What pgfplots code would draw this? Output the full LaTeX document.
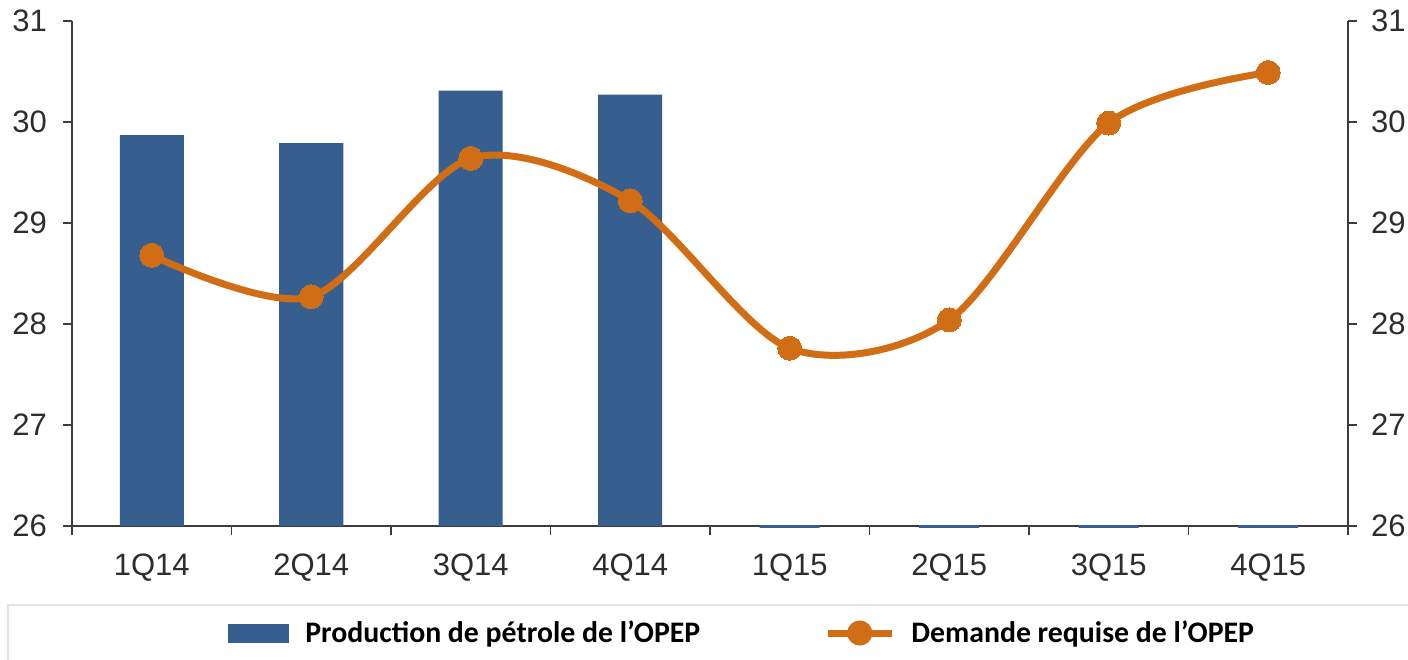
\documentclass[border=0pt]{standalone}
\usepackage{pgfplots}
\pgfplotsset{compat=1.18}
\usepackage{fontspec}
\setmainfont{Liberation Sans}
\newfontfamily\legfont{Carlito}
\definecolor{barblue}{RGB}{54,94,142}
\definecolor{lineorange}{RGB}{209,109,20}
\definecolor{axisgray}{RGB}{60,60,60}
\definecolor{ticktext}{RGB}{45,45,45}
\begin{document}
\begin{tikzpicture}
\useasboundingbox (0pt,0pt) rectangle (704pt,-329.5pt);
\draw[gray!22, line width=0.8pt] (4pt,-335pt) -- (4pt,-302.5pt) -- (710pt,-302.5pt);
\pgfplotsset{
  common/.style={
    at={(36pt,-263pt)}, anchor=south west,
    scale only axis, width=638pt, height=252.5pt,
    xmin=-0.5, xmax=7.5, ymin=26, ymax=31,
    ytick={26,27,28,29,30,31},
    tick align=outside,
    major tick length=4.5pt,
    axis line style={-, axisgray, line width=1pt},
    every tick/.style={axisgray, line width=0.8pt},
    ticklabel style={font=\fontsize{15.5}{18}\selectfont, text=ticktext},
    /pgf/number format/assume math mode=true,
    clip=false,
  }
}
\begin{axis}[common,
  axis x line*=bottom, axis y line*=left,
  xtick={0,...,7},
  xticklabels={1Q14,2Q14,3Q14,4Q14,1Q15,2Q15,3Q15,4Q15},
  major x tick style={draw=none},
  minor xtick={-0.5,0.5,...,7.5},
  minor tick length=4.5pt,
  minor x tick style={axisgray, line width=0.8pt},
  xticklabel style={yshift=-6pt},
  yticklabel style={xshift=-4.5pt},
]
\addplot[ybar, bar width=32pt, bar shift=0pt, fill=barblue, draw=none] coordinates {
  (0,29.87) (1,29.79) (2,30.31) (3,30.27)
};
\addplot[ybar, bar width=30pt, bar shift=0pt, fill=barblue, draw=barblue, line width=1.5pt] coordinates {
  (4,26) (5,26) (6,26) (7,26)
};
\end{axis}
\begin{axis}[common,
  axis x line=none, axis y line*=right,
  yticklabel style={xshift=3.5pt},
  legend columns=2,
  legend cell align=left,
  legend style={at={(0.1223,-0.2119)}, anchor=west, draw=none, fill=none, inner sep=0pt,
    font=\legfont\bfseries\fontsize{14.9}{17}\selectfont, text=black,
    /tikz/every even column/.append style={column sep=60pt},
    /tikz/every odd column/.append style={column sep=6pt}},
]
\addlegendimage{legend image code/.code={\fill[barblue] (0pt,-4.5pt) rectangle (30pt,4.5pt);}}
\addlegendentry{Production de pétrole de l’OPEP}
\addplot[lineorange, line width=3.5pt, smooth, mark=*, mark size=6pt,
  mark options={fill=lineorange, draw=lineorange, line width=0pt},
  legend image code/.code={\draw[lineorange, line width=3.5pt] (0pt,0pt) -- (32pt,0pt); \fill[lineorange] (16pt,0pt) circle (4.5pt);}]
  coordinates {
  (0,28.68) (1,28.27) (2,29.64) (3,29.22) (4,27.76) (5,28.04) (6,29.99) (7,30.49)
};
\addlegendentry{Demande requise de l’OPEP}
\end{axis}
\end{tikzpicture}
\end{document}
